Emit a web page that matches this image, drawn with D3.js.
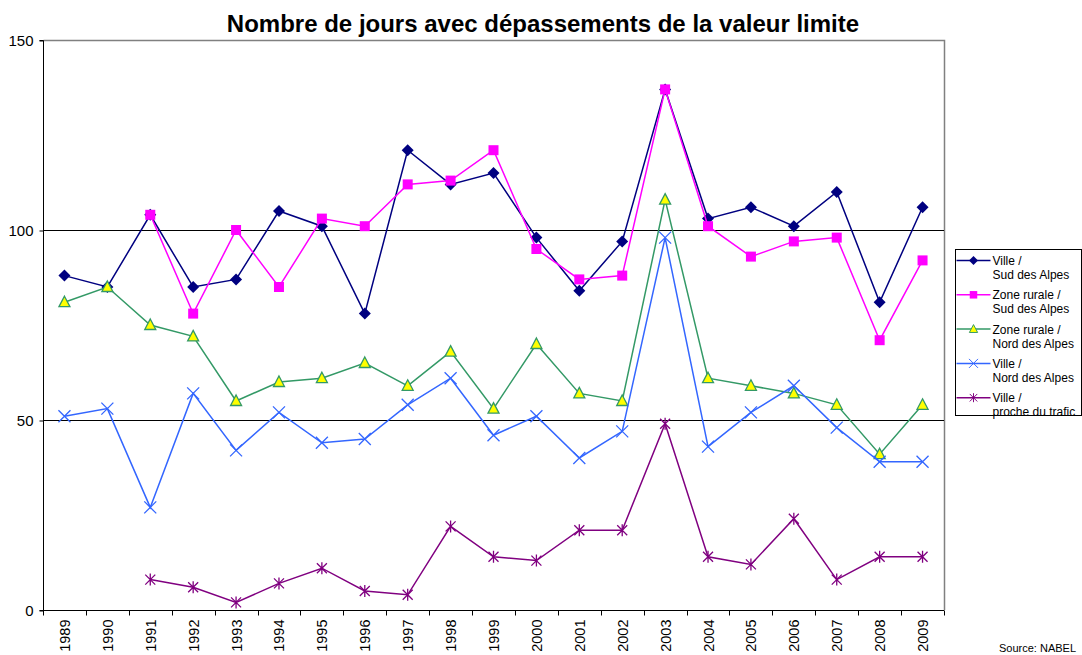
<!DOCTYPE html>
<html>
<head>
<meta charset="utf-8">
<script src="https://cdn.jsdelivr.net/npm/d3@7"></script>
<style>
  html, body { margin: 0; padding: 0; background: #fff; overflow: hidden; }
  svg { display: block; }
</style>
</head>
<body>
<div id="chart"></div>
<script>
/* global d3 */

var FONT = "'Liberation Sans', Arial, sans-serif";

var years = [ "1989", "1990", "1991", "1992", "1993", "1994", "1995", "1996", "1997", "1998",
  "1999", "2000", "2001", "2002", "2003", "2004", "2005", "2006", "2007", "2008", "2009" ];

var villeSud = [ 88, 85, 104, 85, 87, 105, 101, 78, 121, 112, 115, 98, 84, 97, 137, 103, 106, 101, 110, 81, 106 ];
var ruraleSud = [ null, null, 104, 78, 100, 85, 103, 101, 112, 113, 121, 95, 87, 88, 137, 101, 93, 97, 98, 71, 92 ];
var ruraleNord = [ 81, 85, 75, 72, 55, 60, 61, 65, 59, 68, 53, 70, 57, 55, 108, 61, 59, 57, 54, 41, 54 ];
var villeNord = [ 51, 53, 27, 57, 42, 52, 44, 45, 54, 61, 46, 51, 40, 47, 98, 43, 52, 59, 48, 39, 39 ];
var villeTrafic = [ null, null, 8, 6, 2, 7, 11, 5, 4, 22, 14, 13, 21, 21, 49, 14, 12, 24, 8, 14, 14 ];

var seriesNames = [ [ "Ville /", "Sud des Alpes" ], [ "Zone rurale /", "Sud des Alpes" ],
  [ "Zone rurale /", "Nord des Alpes" ], [ "Ville /", "Nord des Alpes" ], [ "Ville /", "proche du trafic" ] ];
var yTicks = [ 0, 50, 100, 150 ];

var series = [
  { name: seriesNames[ 0 ], values: villeSud, color: "#000080", marker: "diamond" },
  { name: seriesNames[ 1 ], values: ruraleSud, color: "#ff00ff", marker: "square" },
  { name: seriesNames[ 2 ], values: ruraleNord, color: "#339966", marker: "triangle" },
  { name: seriesNames[ 3 ], values: villeNord, color: "#3366ff", marker: "x" },
  { name: seriesNames[ 4 ], values: villeTrafic, color: "#800080", marker: "star" }
];

var width = 1082, height = 655;
var margin = { top: 40, right: 138, bottom: 45, left: 43 };
var innerWidth = width - margin.left - margin.right,
  innerHeight = height - margin.top - margin.bottom;

var svg = d3.select( "#chart" ).append( "svg" )
  .attr( "width", width )
  .attr( "height", height );

var g = svg.append( "g" )
  .attr( "transform", "translate(" + margin.left + "," + margin.top + ")" );

var xScale = d3.scaleBand().domain( years ).range( [ 0, innerWidth ] ).padding( 0 );
var yScale = d3.scaleLinear().domain( [ 0, 150 ] ).range( [ innerHeight, 0 ] );

function X( d, i ) { return xScale( years[ i ] ) + xScale.bandwidth() / 2; }

// Title
svg.append( "text" )
  .attr( "x", 543 )
  .attr( "y", 32 )
  .attr( "text-anchor", "middle" )
  .style( "font-family", FONT )
  .style( "font-size", "24px" )
  .style( "font-weight", "bold" )
  .text( "Nombre de jours avec dépassements de la valeur limite" );

// Plot border (top and right) in gray
g.append( "path" )
  .attr( "d", "M0.5,0.5H" + ( innerWidth + 0.5 ) + "V" + innerHeight )
  .attr( "fill", "none" )
  .attr( "stroke", "#808080" )
  .attr( "stroke-width", 1.5 );

// Gridlines
g.selectAll( ".grid" )
  .data( [ 50, 100 ] )
  .enter().append( "line" )
    .attr( "class", "grid" )
    .attr( "x1", 0 )
    .attr( "x2", innerWidth )
    .attr( "y1", d => Math.round( yScale( d ) ) + 0.5 )
    .attr( "y2", d => Math.round( yScale( d ) ) + 0.5 )
    .attr( "stroke", "#000" )
    .attr( "stroke-width", 1 );

// Y axis
var yAxis = g.append( "g" )
  .attr( "transform", "translate(0.5,0.5)" )
  .call( d3.axisLeft( yScale ).tickValues( yTicks ).tickSize( 4 ).tickPadding( 6 ) );
yAxis.select( ".domain" ).attr( "stroke", "#000" ).attr( "d", "M-4," + innerHeight + "H0V0H-4" );
yAxis.selectAll( "text" ).style( "font-size", "15px" ).attr( "fill", "#000" )
  .style( "font-family", FONT );

// X axis: ticks at band edges
var xAxis = g.append( "g" )
  .attr( "transform", "translate(0," + ( innerHeight + 0.5 ) + ")" );
xAxis.append( "line" )
  .attr( "x1", 0 ).attr( "x2", innerWidth )
  .attr( "stroke", "#000" );
xAxis.selectAll( ".tick" )
  .data( years.concat( [ "end" ] ) )
  .enter().append( "line" )
    .attr( "x1", ( d, i ) => Math.round( i * xScale.step() ) + 0.5 )
    .attr( "x2", ( d, i ) => Math.round( i * xScale.step() ) + 0.5 )
    .attr( "y1", 0 ).attr( "y2", 5 )
    .attr( "stroke", "#000" );
xAxis.selectAll( ".lbl" )
  .data( years )
  .enter().append( "text" )
    .attr( "transform", d => "translate(" + ( xScale( d ) + xScale.bandwidth() / 2 + 5.5 ) + ",9) rotate(-90)" )
    .attr( "text-anchor", "end" )
    .style( "font-family", FONT )
    .style( "font-size", "14.5px" )
    .text( d => d );

// Markers
function drawMarker( sel, type, color ) {
  if ( type === "diamond" ) {
    sel.append( "path" ).attr( "d", "M0,-6L6,0L0,6L-6,0Z" ).attr( "fill", color );
  } else if ( type === "square" ) {
    sel.append( "rect" ).attr( "x", -5 ).attr( "y", -5 ).attr( "width", 10 ).attr( "height", 10 ).attr( "fill", color );
  } else if ( type === "triangle" ) {
    sel.append( "path" ).attr( "d", "M0,-6L5.5,4.5L-5.5,4.5Z" )
      .attr( "fill", "#ffff00" ).attr( "stroke", color ).attr( "stroke-width", 1.3 );
  } else if ( type === "x" ) {
    sel.append( "path" ).attr( "d", "M-6,-6L6,6M-6,6L6,-6" )
      .attr( "fill", "none" ).attr( "stroke", color ).attr( "stroke-width", 1.3 );
  } else if ( type === "star" ) {
    sel.append( "path" ).attr( "d", "M-5,-5L5,5M-5,5L5,-5M0,-6V6" )
      .attr( "fill", "none" ).attr( "stroke", color ).attr( "stroke-width", 1.3 );
  }
}

var line = d3.line()
  .defined( d => d != null )
  .x( X )
  .y( d => yScale( d ) );

series.forEach( function( s ) {
  g.append( "path" )
    .attr( "d", line( s.values ) )
    .attr( "fill", "none" )
    .attr( "stroke", s.color )
    .attr( "stroke-width", 1.5 );

  s.values.forEach( function( v, i ) {
    if ( v == null ) return;
    var m = g.append( "g" )
      .attr( "transform", "translate(" + X( v, i ) + "," + yScale( v ) + ")" );
    drawMarker( m, s.marker, s.color );
  } );
} );

// Legend
var legend = svg.append( "g" ).attr( "transform", "translate(955.5,249.5)" );
legend.append( "rect" )
  .attr( "width", 126 ).attr( "height", 166 )
  .attr( "fill", "#fff" ).attr( "stroke", "#000" );

series.forEach( function( s, i ) {
  var item = legend.append( "g" ).attr( "transform", "translate(0," + ( 11 + i * 34.3 ) + ")" );
  item.append( "line" ).attr( "x1", 1 ).attr( "x2", 35 ).attr( "stroke", s.color ).attr( "stroke-width", 1.5 );
  var m = item.append( "g" ).attr( "transform", "translate(18,0) scale(0.75)" );
  drawMarker( m, s.marker, s.color );
  item.append( "text" ).attr( "x", 37 ).attr( "y", 4.5 )
    .style( "font-family", FONT ).style( "font-size", "12px" ).text( s.name[ 0 ] );
  item.append( "text" ).attr( "x", 37 ).attr( "y", 18.5 )
    .style( "font-family", FONT ).style( "font-size", "12px" ).text( s.name[ 1 ] );
} );

// Source
svg.append( "text" )
  .attr( "x", 999 )
  .attr( "y", 652 )
  .style( "font-family", FONT )
  .style( "font-size", "11px" )
  .text( "Source: NABEL" );
</script>
</body>
</html>
